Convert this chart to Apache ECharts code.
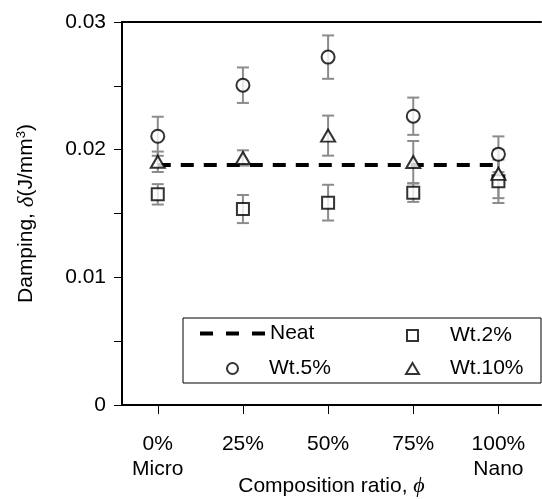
<!DOCTYPE html>
<html>
<head>
<meta charset="utf-8">
<script src="https://cdn.jsdelivr.net/npm/echarts@6/dist/echarts.min.js"></script>
<style>
  html, body { margin: 0; padding: 0; background: #fff; }
  #chart { width: 542px; height: 499px; }
</style>
</head>
<body>
<div id="chart"></div>
<script>
// x positions and tick labels
const xPos = [0, 1, 2, 3, 4];
const xLabels = ['0%\nMicro', '25%', '50%', '75%', '100%\nNano'];

// neat reference level
const neat = 0.0188;

// damping values and error (+/-)
const wt2 = [0.01650, 0.01535, 0.01585, 0.01663, 0.01752];
const wt2Err = [0.00080, 0.00110, 0.00140, 0.00072, 0.00170];
const wt5 = [0.02105, 0.02505, 0.02725, 0.02262, 0.01964];
const wt5Err = [0.00153, 0.00139, 0.00170, 0.00146, 0.00140];
const wt10 = [0.01905, 0.01935, 0.02110, 0.01903, 0.01810];
const wt10Err = [0.00080, 0.00060, 0.00157, 0.00165, 0.00190];

const yTicks = [0, 0.01, 0.02, 0.03];

const FONT = 'Liberation Sans';

let myChart = echarts.init(document.getElementById('chart'));

function errData(vals, errs) {
  return vals.map((v, i) => [xPos[i], v - errs[i], v + errs[i]]);
}

// error bar: vertical line + two caps
function errBar(params, api) {
  let x = api.value(0);
  let top = api.coord([x, api.value(2)]);
  let bot = api.coord([x, api.value(1)]);
  let w = 6;
  let st = { stroke: '#8c8c8c', lineWidth: 2 };
  return {
    type: 'group',
    children: [
      { type: 'line', shape: { x1: top[0], y1: top[1], x2: bot[0], y2: bot[1] }, style: st },
      { type: 'line', shape: { x1: top[0] - w, y1: top[1], x2: top[0] + w, y2: top[1] }, style: st },
      { type: 'line', shape: { x1: bot[0] - w, y1: bot[1], x2: bot[0] + w, y2: bot[1] }, style: st }
    ]
  };
}

function errSeries(vals, errs) {
  return {
    type: 'custom',
    renderItem: errBar,
    data: errData(vals, errs),
    encode: { x: 0, y: [1, 2] },
    z: 1,
    silent: true
  };
}

function pts(vals) {
  return vals.map((v, i) => [xPos[i], v]);
}

const markerStyle = { color: '#fff', borderColor: '#000', borderWidth: 2 };

// one legend box per entry, placed by hand like the original
function legendItem(name, left, top, w, h, textPad) {
  return {
    left: left, top: top,
    itemWidth: w, itemHeight: h,
    selectedMode: false,
    padding: 0,
    itemStyle: markerStyle,
    textStyle: { fontFamily: FONT, fontSize: 21, color: '#000', padding: [0, 0, 0, textPad] },
    data: [name]
  };
}

// dashed-line legend key for the neat level
let neatLegend = legendItem('Neat', 200, 323, 65, 4, 0);
neatLegend.icon = 'path://M0,0H13V4H0Z M26,0H39V4H26Z M52,0H65V4H52Z';
neatLegend.itemStyle = { color: '#000', borderWidth: 0 };

myChart.setOption({
  animation: false,
  textStyle: { fontFamily: FONT },
  grid: { left: 122, right: 1, top: 22, bottom: 94, containLabel: false, outerBoundsMode: 'none' },
  graphic: [{
    type: 'rect',
    shape: { x: 183, y: 318, width: 358, height: 65 },
    style: { fill: '#fff', stroke: '#000', lineWidth: 1 },
    z: 3
  }],
  legend: [
    neatLegend,
    legendItem('Wt.2%', 406, 325, 11, 11, 27),
    legendItem('Wt.5%', 226, 358, 11, 11, 26),
    legendItem('Wt.10%', 405, 358, 13, 11, 26)
  ],
  xAxis: [{
    type: 'value',
    min: -0.42,
    max: 4.5,
    splitLine: { show: false },
    axisLine: { show: true, onZero: false, lineStyle: { color: '#000', width: 2 } },
    axisTick: { show: true, length: 9, customValues: xPos, lineStyle: { color: '#000', width: 1 } },
    axisLabel: {
      customValues: xPos,
      margin: 27,
      fontSize: 21,
      lineHeight: 25,
      color: '#000',
      formatter: function (v) { return xLabels[Math.round(v)]; }
    },
    name: 'Composition ratio, {p|ϕ}',
    nameLocation: 'middle',
    nameGap: 70,
    nameMoveOverlap: false,
    nameTextStyle: {
      fontSize: 21, color: '#000',
      rich: { p: { fontFamily: 'Liberation Serif', fontStyle: 'italic', fontSize: 22 } }
    }
  }, {
    type: 'value',
    position: 'top',
    min: -0.42,
    max: 4.5,
    splitLine: { show: false },
    axisLine: { show: true, onZero: false, lineStyle: { color: '#000', width: 2 } },
    axisTick: { show: false },
    axisLabel: { show: false }
  }],
  yAxis: {
    type: 'value',
    min: yTicks[0],
    max: yTicks[yTicks.length - 1],
    interval: 0.01,
    splitLine: { show: false },
    axisLine: { show: true, onZero: false, lineStyle: { color: '#000', width: 2 } },
    axisTick: { show: true, length: 8, lineStyle: { color: '#000', width: 1 } },
    minorTick: { show: true, splitNumber: 2, length: 8, lineStyle: { color: '#000', width: 1 } },
    axisLabel: { margin: 16, fontSize: 21, color: '#000' },
    name: 'Damping, {d|δ}(J/mm{s|3})',
    nameLocation: 'middle',
    nameGap: 84,
    nameMoveOverlap: false,
    nameTextStyle: {
      fontSize: 21, color: '#000',
      rich: {
        d: { fontFamily: 'Liberation Serif', fontStyle: 'italic', fontSize: 23 },
        s: { fontSize: 13, verticalAlign: 'top', padding: [0, 0, 8, 0] }
      }
    }
  },
  series: [
    errSeries(wt2, wt2Err),
    errSeries(wt5, wt5Err),
    errSeries(wt10, wt10Err),
    {
      name: 'Neat',
      type: 'line',
      data: [[xPos[0], neat], [xPos[xPos.length - 1], neat]],
      symbol: 'none',
      lineStyle: { color: '#000', width: 4, type: [13, 10] },
      z: 3,
      silent: true
    },
    {
      name: 'Wt.2%', type: 'scatter', data: pts(wt2),
      symbol: 'rect', symbolSize: 12, itemStyle: markerStyle, z: 4, silent: true
    },
    {
      name: 'Wt.5%', type: 'scatter', data: pts(wt5),
      symbol: 'circle', symbolSize: 13, itemStyle: markerStyle, z: 4, silent: true
    },
    {
      name: 'Wt.10%', type: 'scatter', data: pts(wt10),
      symbol: 'triangle', symbolSize: [14, 12], itemStyle: markerStyle, z: 4, silent: true
    }
  ]
});

window.addEventListener('resize', () => {
  if (myChart) {
    myChart.resize();
  }
});
</script>
</body>
</html>
